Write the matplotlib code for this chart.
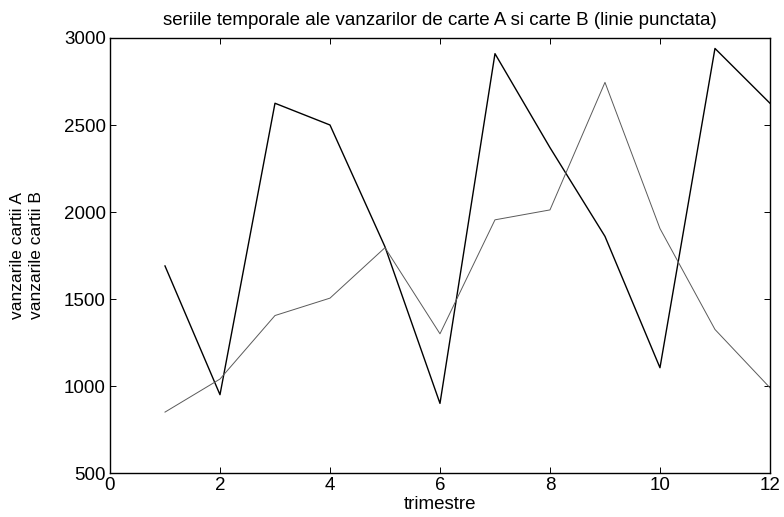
import numpy as np
import matplotlib.pyplot as plt

#Data
trimestre = [1, 2, 3, 4, 5, 6, 7, 8, 9, 10, 11, 12]
carte_A = [1690, 950, 2625, 2500, 1800, 900, 2910, 2370, 1860, 1105, 2940, 2625]
carte_B = [850, 1040, 1405, 1505, 1795, 1300, 1955, 2012, 2745, 1905, 1325, 990]

plt.rcParams['font.family'] = ['Liberation Sans', 'DejaVu Sans']
plt.rcParams['font.size'] = 13.5

fig = plt.figure(figsize=(7.84, 5.17), dpi=100)
ax = fig.add_axes([0.1403, 0.0851, 0.8418, 0.8414])

#Plotting both series
ax.plot(trimestre, carte_A, color='black', linewidth=1.0)
ax.plot(trimestre, carte_B, color='#5a5a5a', linewidth=0.7)

ax.set_xlim(0, 12)
ax.set_ylim(500, 3000)
ax.set_xticks(np.arange(0, 13, 2))
ax.set_yticks(np.arange(500, 3001, 500))
ax.tick_params(direction='in', top=True, right=True, length=4, width=0.7,
               labelsize=13.5, colors='black', pad=3)
for s in ax.spines.values():
    s.set_linewidth(1.0)

ax.set_xlabel('trimestre', labelpad=1)
ax.set_ylabel('vanzarile cartii A\nvanzarile cartii B', fontsize=12.5, linespacing=1.3)
ax.yaxis.set_label_coords(-0.1, 0.5)
ax.set_title('seriile temporale ale vanzarilor de carte A si carte B (linie punctata)',
             fontsize=13.5, pad=9)

fig.savefig('out.png', dpi=100)
